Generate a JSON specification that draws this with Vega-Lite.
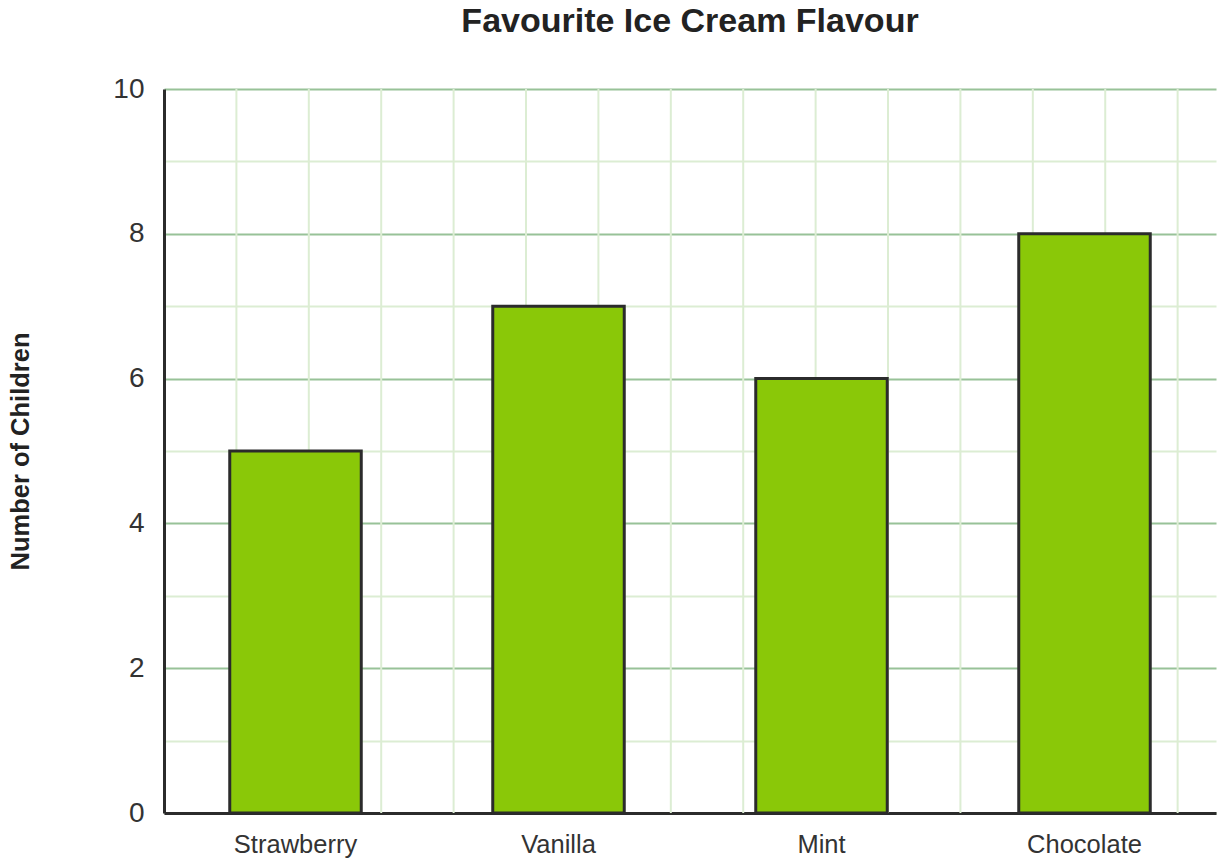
{
  "$schema": "https://vega.github.io/schema/vega-lite/v6.json",
  "autosize": "none",
  "width": 1052,
  "height": 724,
  "padding": {"left": 164, "top": 89, "right": 8, "bottom": 53},
  "background": "white",
  "config": {
    "view": {"stroke": null},
    "font": "Liberation Sans"
  },
  "title": {
    "text": "Favourite Ice Cream Flavour",
    "fontSize": 34,
    "fontWeight": "bold",
    "color": "#222222",
    "frame": "group",
    "anchor": "middle",
    "offset": 36
  },
  "datasets": {
    "bars": [
      {"flavour": "Strawberry", "children": 5},
      {"flavour": "Vanilla", "children": 7},
      {"flavour": "Mint", "children": 6},
      {"flavour": "Chocolate", "children": 8}
    ],
    "vgrid": [
      {"g": 1}, {"g": 2}, {"g": 3}, {"g": 4}, {"g": 5}, {"g": 6}, {"g": 7},
      {"g": 8}, {"g": 9}, {"g": 10}, {"g": 11}, {"g": 12}, {"g": 13}, {"g": 14}
    ]
  },
  "layer": [
    {
      "data": {"name": "vgrid"},
      "mark": {"type": "rule", "color": "#dcedd3", "strokeWidth": 2},
      "encoding": {
        "x": {"field": "g", "type": "quantitative", "scale": {"domain": [0, 14.53], "nice": false, "zero": false}, "axis": null}
      }
    },
    {
      "data": {"name": "bars"},
      "mark": {"type": "bar", "color": "#8ac808", "stroke": "#2b2b2b", "strokeWidth": 3},
      "encoding": {
        "x": {
          "field": "flavour",
          "type": "nominal",
          "sort": null,
          "scale": {"paddingInner": 0.5, "paddingOuter": 0.25},
          "axis": {
            "title": null,
            "labelAngle": 0,
            "labelFontSize": 25.5,
            "labelColor": "#333333",
            "labelPadding": 19,
            "ticks": false,
            "domainColor": "#2b2b2b",
            "domainWidth": 3,
            "grid": false
          }
        },
        "y": {
          "field": "children",
          "type": "quantitative",
          "scale": {"domain": [0, 10], "nice": false},
          "axis": {
            "title": "Number of Children",
            "titleFontSize": 25.5,
            "titleFontWeight": "bold",
            "titleColor": "#222222",
            "titleAngle": 270,
            "titleX": -144,
            "titleY": 362,
            "titleAlign": "center",
            "titleBaseline": "middle",
            "values": [0, 1, 2, 3, 4, 5, 6, 7, 8, 9, 10],
            "labelExpr": "datum.value % 2 === 0 ? datum.label : ''",
            "labelFontSize": 28,
            "labelColor": "#333333",
            "labelPadding": 20,
            "ticks": false,
            "domainColor": "#2b2b2b",
            "domainWidth": 3,
            "grid": true,
            "gridWidth": 2,
            "gridColor": {"condition": {"test": "datum.value % 2 === 0", "value": "#98c298"}, "value": "#dcedd3"}
          }
        }
      }
    }
  ],
  "resolve": {"scale": {"x": "independent"}}
}
